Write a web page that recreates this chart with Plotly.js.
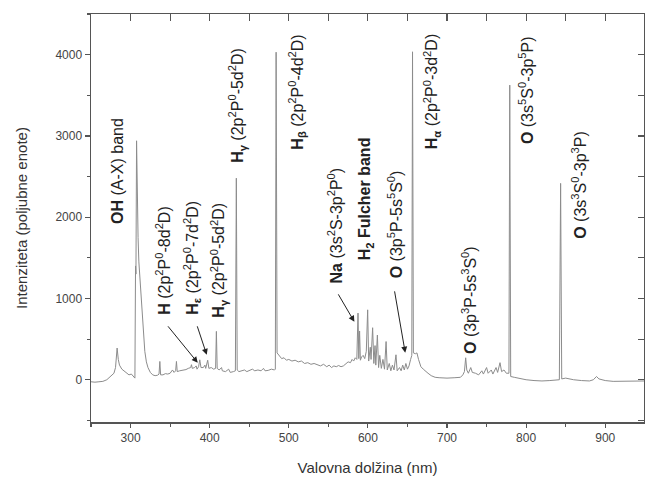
<!DOCTYPE html>
<html>
<head>
<meta charset="utf-8">
<script src="https://cdn.plot.ly/plotly-3.0.1.min.js"></script>
<style>html,body{margin:0;padding:0;overflow:hidden;background:#fff;}</style>
</head>
<body>
<div id="chart" style="width:645px;height:481px;"></div>
<script>
// Spectrum: wavelength (nm) and intensity (a.u.)
const wavelength = [
  250,255,260,265,270,273,276,279,281,283,284.5,286,289,292,295,298,301,304,305.5,
  306.3,306.8,307.6,308.2,308.8,309.5,310.5,311.5,312.5,313.5,315,316.5,318,320,322,325,328,331,
  334,336,337,338,341,344,347,350,353,355,357,358,359,362,366,370,373,376,377,378,381,383,384,386,387.5,389,
  392,394,395,397.5,399,402,405,407.5,408.5,409.5,412,415,416,420,424,426,430,432.5,433.7,434.8,
  437,440,444,447,450,454,457,461,465,468,470,474,478,482,483,484,485.2,487,489,491,494,497,500,504,508,
  512,516,520,524,528,532,536,540,544,548,551,554,557,560,563,566,569,572,575,578,580,582,584,586,
  587.5,588.5,589.5,590.5,592,594,596,598,599.7,601,603,604,606,607.5,609,610,612,613.5,615,617,619,621,
  623,624.5,627,629,631,633,635.5,637,640,642,644,646,648,650,652,654,655.5,656.4,657.5,660,662,664,667,
  670,673,676,680,685,690,700,710,717,720,722,723.6,725,727,730,732,736,740,744,746,750,752,756,758,
  762,764,767,769,772,775,778.3,779.3,780.5,785,790,795,800,810,820,830,838,842,843.6,845,850,855,860,
  870,880,885,889,892,900,910,920,930,940,950
];
const intensity = [
  -25,-30,-25,-20,0,30,60,80,150,390,250,180,130,110,90,60,70,30,20,
  1400,1300,2940,2200,2580,1750,1450,1300,1100,900,700,500,350,220,150,90,60,50,
  55,70,225,60,60,75,70,80,120,90,110,225,100,110,115,125,140,150,185,140,150,170,130,160,245,150,
  150,180,140,240,140,150,130,140,595,140,120,150,110,100,130,90,100,110,2480,120,
  100,110,120,100,115,130,110,120,110,140,110,115,130,120,130,4030,330,310,280,260,270,240,250,230,240,
  220,230,200,210,190,200,180,170,190,160,180,150,170,160,175,160,170,190,220,210,250,230,270,250,
  820,260,600,240,280,300,260,350,860,230,400,250,640,200,420,180,550,150,300,140,250,130,
  470,120,200,110,180,120,307,110,150,110,180,120,200,130,170,250,300,4035,330,320,330,250,160,
  130,100,80,50,30,25,20,25,30,60,100,270,120,80,150,90,80,60,110,70,150,80,120,70,
  150,90,210,100,120,80,80,3625,40,30,20,10,0,-10,-15,-10,-5,0,2416,10,20,10,0,
  -10,-15,0,40,10,-10,-20,-20,-15,-20,-15
];

// Tick values
const xTickVals = [300,400,500,600,700,800,900];
const yTickVals = [0,1000,2000,3000,4000];

// Line labels: text, anchor wavelength, anchor intensity
const labelTexts = [
  "<b>OH</b> (A-X) band",
  "<b>H</b> (2p<sup>2</sup>P<sup>0</sup>-8d<sup>2</sup>D)",
  "<b>H<sub>ε</sub></b> (2p<sup>2</sup>P<sup>0</sup>-7d<sup>2</sup>D)",
  "<b>H<sub>γ</sub></b> (2p<sup>2</sup>P<sup>0</sup>-5d<sup>2</sup>D)",
  "<b>H<sub>γ</sub></b> (2p<sup>2</sup>P<sup>0</sup>-5d<sup>2</sup>D)",
  "<b>H<sub>β</sub></b> (2p<sup>2</sup>P<sup>0</sup>-4d<sup>2</sup>D)",
  "<b>Na</b> (3s<sup>2</sup>S-3p<sup>2</sup>P<sup>0</sup>)",
  "<b>H<sub>2</sub> Fulcher band</b>",
  "<b>O</b> (3p<sup>5</sup>P-5s<sup>5</sup>S<sup>0</sup>)",
  "<b>H<sub>α</sub></b> (2p<sup>2</sup>P<sup>0</sup>-3d<sup>2</sup>D)",
  "<b>O</b> (3p<sup>3</sup>P-5s<sup>3</sup>S<sup>0</sup>)",
  "<b>O</b> (3s<sup>5</sup>S<sup>0</sup>-3p<sup>5</sup>P)",
  "<b>O</b> (3s<sup>3</sup>S<sup>0</sup>-3p<sup>3</sup>P)"
];
const labelX = [282.8,340.8,377.4,411.4,435.4,511,559,598,634.6,681,728,799.8,866.6];
const labelY = [2568,1474,1499,1474,3378,3538,1904,2224,1916,3550,983,3563,2396];

// Arrows: tail (wavelength, intensity) -> head (wavelength, intensity)
const arrowTailX = [345.8,383.7,561.5,633.4];
const arrowTailY = [676,676,1069,1106];
const arrowHeadX = [384.9,396.3,582.9,647.2];
const arrowHeadY = [209,307,713,332];

const font = "Liberation Sans, Arial, sans-serif";
const axisColor = "#555";
const xRange = [250, 949];
const yRange = [-520, 4500];

const annotations = [];
labelTexts.forEach((t, i) => {
  annotations.push({
    x: labelX[i], y: labelY[i], xref: "x", yref: "y",
    text: t, textangle: -90, showarrow: false,
    font: {family: font, size: 16, color: "#222"},
    xanchor: "center", yanchor: "middle"
  });
});
arrowHeadX.forEach((hx, i) => {
  annotations.push({
    x: hx, y: arrowHeadY[i], xref: "x", yref: "y",
    ax: arrowTailX[i], ay: arrowTailY[i], axref: "x", ayref: "y",
    text: "", showarrow: true, arrowhead: 2, arrowsize: 1.2, arrowwidth: 1,
    arrowcolor: "#222", standoff: 0, startstandoff: 0
  });
});

const traces = [
  {x: wavelength, y: intensity, type: "scatter", mode: "lines",
   line: {color: "#8c8c8c", width: 1}, hoverinfo: "skip", showlegend: false},
  {x: [], y: [], xaxis: "x2", yaxis: "y2", type: "scatter", mode: "lines", showlegend: false}
];

const layout = {
  width: 645, height: 481,
  margin: {l: 91, r: 1, t: 14, b: 59},
  paper_bgcolor: "#fff", plot_bgcolor: "#fff",
  font: {family: font, color: "#333"},
  showlegend: false,
  xaxis: {
    range: xRange, tickvals: xTickVals, ticks: "outside", ticklen: 4, tickwidth: 1.2,
    tickcolor: axisColor, showline: true, linecolor: axisColor, linewidth: 1.5,
    showgrid: false, zeroline: false, tickfont: {size: 12, color: "#444"},
    minor: {dtick: 50, tick0: 250, ticks: "outside", ticklen: 3, tickcolor: axisColor, showgrid: false},
    title: {text: "Valovna dolžina (nm)", font: {size: 15, color: "#333"}, standoff: 18}
  },
  yaxis: {
    range: yRange, tickvals: yTickVals, ticks: "outside", ticklen: 5, tickwidth: 1.2,
    tickcolor: axisColor, showline: true, linecolor: axisColor, linewidth: 1.5,
    showgrid: false, zeroline: false, tickfont: {size: 12, color: "#444"},
    minor: {dtick: 500, tick0: 0, ticks: "outside", ticklen: 3, tickcolor: axisColor, showgrid: false},
    title: {text: "Intenziteta (poljubne enote)", font: {size: 15, color: "#333"}, standoff: 24}
  },
  xaxis2: {
    overlaying: "x", side: "top", range: xRange, dtick: 50, tick0: 250,
    ticks: "inside", ticklen: 7, tickwidth: 1.2, tickcolor: axisColor,
    showticklabels: false, showline: true, linecolor: axisColor, linewidth: 1.5,
    showgrid: false, zeroline: false
  },
  yaxis2: {
    overlaying: "y", side: "right", range: yRange, dtick: 500, tick0: 0,
    ticks: "inside", ticklen: 6, tickwidth: 1.2, tickcolor: axisColor,
    showticklabels: false, showline: true, linecolor: axisColor, linewidth: 1.5,
    showgrid: false, zeroline: false
  },
  annotations: annotations
};

Plotly.newPlot("chart", traces, layout, {staticPlot: true, displayModeBar: false});
</script>
</body>
</html>
